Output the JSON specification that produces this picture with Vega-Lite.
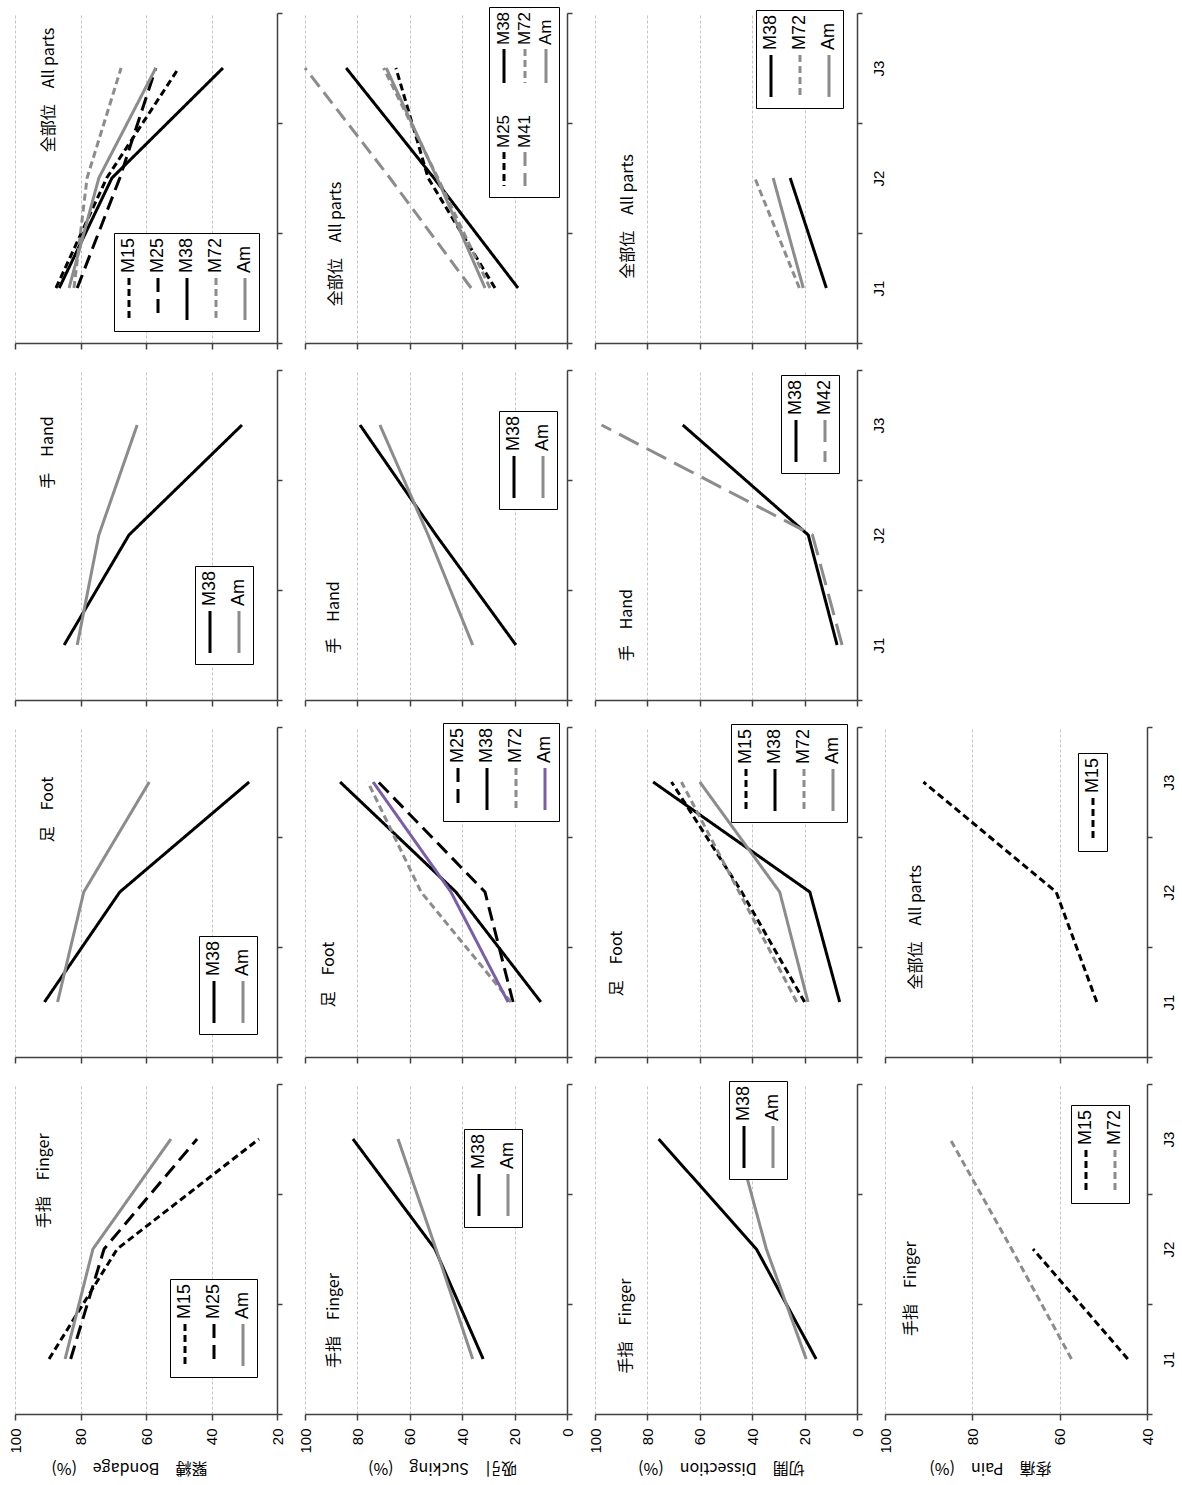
{
  "$schema": "https://vega.github.io/schema/vega-lite/v6.json",
  "background": "white",
  "padding": {"left": 8, "top": 6, "right": 5, "bottom": 5},
  "data": {"values": [
    {"m":"B","p":"all","s":"M15","j":"J1","v":87.5},{"m":"B","p":"all","s":"M15","j":"J2","v":72},{"m":"B","p":"all","s":"M15","j":"J3","v":50},
    {"m":"B","p":"all","s":"M25","j":"J1","v":81},{"m":"B","p":"all","s":"M25","j":"J2","v":68},{"m":"B","p":"all","s":"M25","j":"J3","v":57},
    {"m":"B","p":"all","s":"M38","j":"J1","v":86.5},{"m":"B","p":"all","s":"M38","j":"J2","v":70.4},{"m":"B","p":"all","s":"M38","j":"J3","v":36.5},
    {"m":"B","p":"all","s":"M72","j":"J1","v":82},{"m":"B","p":"all","s":"M72","j":"J2","v":78},{"m":"B","p":"all","s":"M72","j":"J3","v":67.6},
    {"m":"B","p":"all","s":"Am","j":"J1","v":83.5},{"m":"B","p":"all","s":"Am","j":"J2","v":74.4},{"m":"B","p":"all","s":"Am","j":"J3","v":57},
    {"m":"B","p":"hand","s":"M38","j":"J1","v":85},{"m":"B","p":"hand","s":"M38","j":"J2","v":65.2},{"m":"B","p":"hand","s":"M38","j":"J3","v":30.7},
    {"m":"B","p":"hand","s":"Am","j":"J1","v":81},{"m":"B","p":"hand","s":"Am","j":"J2","v":74.4},{"m":"B","p":"hand","s":"Am","j":"J3","v":62.7},
    {"m":"B","p":"foot","s":"M38","j":"J1","v":91},{"m":"B","p":"foot","s":"M38","j":"J2","v":68},{"m":"B","p":"foot","s":"M38","j":"J3","v":28.5},
    {"m":"B","p":"foot","s":"Am","j":"J1","v":87},{"m":"B","p":"foot","s":"Am","j":"J2","v":79},{"m":"B","p":"foot","s":"Am","j":"J3","v":59},
    {"m":"B","p":"finger","s":"M15","j":"J1","v":89.6},{"m":"B","p":"finger","s":"M15","j":"J2","v":68.8},{"m":"B","p":"finger","s":"M15","j":"J3","v":25.5},
    {"m":"B","p":"finger","s":"M25","j":"J1","v":83},{"m":"B","p":"finger","s":"M25","j":"J2","v":72.8},{"m":"B","p":"finger","s":"M25","j":"J3","v":44.4},
    {"m":"B","p":"finger","s":"Am","j":"J1","v":84.7},{"m":"B","p":"finger","s":"Am","j":"J2","v":76.2},{"m":"B","p":"finger","s":"Am","j":"J3","v":52.4},
    {"m":"S","p":"all","s":"M25","j":"J1","v":27.5},{"m":"S","p":"all","s":"M25","j":"J2","v":53},{"m":"S","p":"all","s":"M25","j":"J3","v":65.3},
    {"m":"S","p":"all","s":"M38","j":"J1","v":18.7},{"m":"S","p":"all","s":"M38","j":"J2","v":50.8},{"m":"S","p":"all","s":"M38","j":"J3","v":84.3},
    {"m":"S","p":"all","s":"M41","j":"J1","v":36.6},{"m":"S","p":"all","s":"M41","j":"J2","v":67.6},{"m":"S","p":"all","s":"M41","j":"J3","v":100},
    {"m":"S","p":"all","s":"M72","j":"J1","v":29.4},{"m":"S","p":"all","s":"M72","j":"J2","v":49.3},{"m":"S","p":"all","s":"M72","j":"J3","v":70},
    {"m":"S","p":"all","s":"Am","j":"J1","v":31.3},{"m":"S","p":"all","s":"Am","j":"J2","v":49.6},{"m":"S","p":"all","s":"Am","j":"J3","v":69},
    {"m":"S","p":"hand","s":"M38","j":"J1","v":19.5},{"m":"S","p":"hand","s":"M38","j":"J2","v":50},{"m":"S","p":"hand","s":"M38","j":"J3","v":79},
    {"m":"S","p":"hand","s":"Am","j":"J1","v":36},{"m":"S","p":"hand","s":"Am","j":"J2","v":53},{"m":"S","p":"hand","s":"Am","j":"J3","v":71.4},
    {"m":"S","p":"foot","s":"M25","j":"J1","v":20.6},{"m":"S","p":"foot","s":"M25","j":"J2","v":31.3},{"m":"S","p":"foot","s":"M25","j":"J3","v":72},
    {"m":"S","p":"foot","s":"M38","j":"J1","v":10},{"m":"S","p":"foot","s":"M38","j":"J2","v":42.4},{"m":"S","p":"foot","s":"M38","j":"J3","v":86.6},
    {"m":"S","p":"foot","s":"M72","j":"J1","v":21.4},{"m":"S","p":"foot","s":"M72","j":"J2","v":55.7},{"m":"S","p":"foot","s":"M72","j":"J3","v":76},
    {"m":"S","p":"foot","s":"Am","j":"J1","v":22.5},{"m":"S","p":"foot","s":"Am","j":"J2","v":44.3},{"m":"S","p":"foot","s":"Am","j":"J3","v":74},
    {"m":"S","p":"finger","s":"M38","j":"J1","v":32},{"m":"S","p":"finger","s":"M38","j":"J2","v":50.4},{"m":"S","p":"finger","s":"M38","j":"J3","v":81.7},
    {"m":"S","p":"finger","s":"Am","j":"J1","v":36},{"m":"S","p":"finger","s":"Am","j":"J2","v":50},{"m":"S","p":"finger","s":"Am","j":"J3","v":64.5},
    {"m":"D","p":"all","s":"M38","j":"J1","v":11.7},{"m":"D","p":"all","s":"M38","j":"J2","v":25.5},
    {"m":"D","p":"all","s":"M72","j":"J1","v":22},{"m":"D","p":"all","s":"M72","j":"J2","v":39},
    {"m":"D","p":"all","s":"Am","j":"J1","v":20.5},{"m":"D","p":"all","s":"Am","j":"J2","v":32},
    {"m":"D","p":"hand","s":"M38","j":"J1","v":7.6},{"m":"D","p":"hand","s":"M38","j":"J2","v":18.6},{"m":"D","p":"hand","s":"M38","j":"J3","v":66.5},
    {"m":"D","p":"hand","s":"M42","j":"J1","v":5.7},{"m":"D","p":"hand","s":"M42","j":"J2","v":17},{"m":"D","p":"hand","s":"M42","j":"J3","v":97.5},
    {"m":"D","p":"foot","s":"M15","j":"J1","v":20},{"m":"D","p":"foot","s":"M15","j":"J2","v":44},{"m":"D","p":"foot","s":"M15","j":"J3","v":70.8},
    {"m":"D","p":"foot","s":"M38","j":"J1","v":6.6},{"m":"D","p":"foot","s":"M38","j":"J2","v":18},{"m":"D","p":"foot","s":"M38","j":"J3","v":77.8},
    {"m":"D","p":"foot","s":"M72","j":"J1","v":23},{"m":"D","p":"foot","s":"M72","j":"J2","v":45},{"m":"D","p":"foot","s":"M72","j":"J3","v":67},
    {"m":"D","p":"foot","s":"Am","j":"J1","v":18.7},{"m":"D","p":"foot","s":"Am","j":"J2","v":29.5},{"m":"D","p":"foot","s":"Am","j":"J3","v":60},
    {"m":"D","p":"finger","s":"M38","j":"J1","v":15.6},{"m":"D","p":"finger","s":"M38","j":"J2","v":38.4},{"m":"D","p":"finger","s":"M38","j":"J3","v":75.7},
    {"m":"D","p":"finger","s":"Am","j":"J1","v":19.4},{"m":"D","p":"finger","s":"Am","j":"J2","v":34.6},{"m":"D","p":"finger","s":"Am","j":"J3","v":46},
    {"m":"P","p":"all","s":"M15","j":"J1","v":51.5},{"m":"P","p":"all","s":"M15","j":"J2","v":60.8},{"m":"P","p":"all","s":"M15","j":"J3","v":91.2},
    {"m":"P","p":"finger","s":"M15","j":"J1","v":44.4},{"m":"P","p":"finger","s":"M15","j":"J2","v":66.1},
    {"m":"P","p":"finger","s":"M72","j":"J1","v":57.3},{"m":"P","p":"finger","s":"M72","j":"J2","v":71},{"m":"P","p":"finger","s":"M72","j":"J3","v":85.1}
  ]},
  "config": {
    "view": {"stroke": null},
    "font": "Liberation Sans",
    "axis": {"domainColor": "#404040", "domainWidth": 1.5, "tickColor": "#404040", "tickWidth": 1.5, "labelColor": "black", "labelFont": "Liberation Sans", "labelFontSize": 15, "titleFont": "Noto Sans CJK JP", "titleFontSize": 16, "titleFontWeight": "normal", "titleColor": "black"},
    "axisX": {"grid": true, "gridColor": "#c4c4c4", "gridDash": [3, 2], "gridWidth": 1, "tickSize": 6, "labelAngle": 270, "labelAlign": "right", "labelBaseline": "middle", "labelPadding": 8, "labelFlush": false, "labelOverlap": false, "titleAngle": 180, "titleBaseline": "bottom", "titlePadding": 6},
    "axisY": {"grid": false, "tickSize": 5, "labelAngle": 270, "labelAlign": "center", "labelBaseline": "top", "labelPadding": 9},
    "legend": {"orient": "none", "direction": "horizontal", "symbolType": "M0,-1L0,1", "symbolSize": 1764, "symbolStrokeWidth": 3, "labelOffset": -21, "labelAlign": "left", "labelBaseline": "middle", "labelFont": "Liberation Sans", "labelFontSize": 18, "labelColor": "black", "columnPadding": 10, "rowPadding": 25, "padding": 5, "strokeColor": "black", "fillColor": "white"},
    "line": {"strokeWidth": 3, "strokeCap": "butt"}
  },
  "columns": 4,
  "spacing": {"row": 27, "column": 28},
  "bounds": "flush",
  "resolve": {"scale": {"color": "independent", "strokeDash": "independent"}},
  "concat": [
        {"width": 262, "height": 330, "layer": [
          {"transform": [{"filter": "datum.m == 'B' && datum.p == 'all'"}], "mark": "line", "encoding": {
            "x": {"field": "v", "type": "quantitative", "scale": {"domain": [20, 100], "reverse": true, "nice": false, "zero": false}, "axis": {"values": [20, 40, 60, 80, 100], "labels": false, "title": null}},
            "y": {"field": "j", "type": "ordinal", "scale": {"type": "band", "domain": ["J3", "J2", "J1"], "paddingInner": 0, "paddingOuter": 0}, "axis": {"orient": "right", "tickBand": "extent", "labels": false, "title": null}},
            "color": {"field": "s", "type": "nominal", "title": null, "scale": {"domain": ["M15", "M25", "M38", "M72", "Am"], "range": ["#000000", "#000000", "#000000", "#8c8c8c", "#8c8c8c"]}, "legend": {"legendX": 99, "legendY": 220, "encoding": {"symbols": {"x": {"value": 10}, "y": {"value": 61}}, "labels": {"angle": {"value": 270}, "dx": {"value": 26}, "x": {"value": 10}, "y": {"value": 61}}}}},
            "strokeDash": {"field": "s", "type": "nominal", "title": null, "scale": {"domain": ["M15", "M25", "M38", "M72", "Am"], "range": [[7, 4], [14, 7], [1, 0], [7, 4], [1, 0]]}},
            "order": {"field": "j"}}},
          {"data": {"values": [{"t": "全部位　All parts"}]}, "mark": {"type": "text", "angle": 270, "font": "Noto Sans CJK JP", "fontSize": 16, "align": "center", "baseline": "middle"}, "encoding": {"text": {"field": "t"}, "x": {"datum": 89.6, "title": null}, "y": {"datum": "J3", "bandPosition": 0.7, "title": null}}}
        ]},
        {"width": 262, "height": 330, "layer": [
          {"transform": [{"filter": "datum.m == 'S' && datum.p == 'all'"}], "mark": "line", "encoding": {
            "x": {"field": "v", "type": "quantitative", "scale": {"domain": [0, 100], "reverse": true, "nice": false}, "axis": {"values": [0, 20, 40, 60, 80, 100], "labels": false, "title": null}},
            "y": {"field": "j", "type": "ordinal", "scale": {"type": "band", "domain": ["J3", "J2", "J1"], "paddingInner": 0, "paddingOuter": 0}, "axis": {"orient": "right", "tickBand": "extent", "labels": false, "title": null}},
            "color": {"field": "s", "type": "nominal", "title": null, "scale": {"domain": ["M38", "M72", "Am", "M25", "M41"], "range": ["#000000", "#8c8c8c", "#8c8c8c", "#000000", "#8c8c8c"]}, "legend": {"legendX": 184, "legendY": -6, "columns": 3, "columnPadding": 3, "rowPadding": 25, "padding": 5, "symbolSize": 1156, "labelOffset": -17, "labelFontSize": 17, "encoding": {"symbols": {"x": {"value": 10}, "y": {"value": 54}}, "labels": {"angle": {"value": 270}, "dx": {"value": 21}, "x": {"value": 10}, "y": {"value": 54}}}}},
            "strokeDash": {"field": "s", "type": "nominal", "title": null, "scale": {"domain": ["M38", "M72", "Am", "M25", "M41"], "range": [[1, 0], [7, 4], [1, 0], [7, 4], [14, 7]]}},
            "order": {"field": "j"}}},
          {"data": {"values": [{"t": "全部位　All parts"}]}, "mark": {"type": "text", "angle": 270, "font": "Noto Sans CJK JP", "fontSize": 16, "align": "center", "baseline": "middle"}, "encoding": {"text": {"field": "t"}, "x": {"datum": 88, "title": null}, "y": {"datum": "J1", "bandPosition": 0.1, "title": null}}}
        ]},
        {"width": 262, "height": 330, "layer": [
          {"transform": [{"filter": "datum.m == 'D' && datum.p == 'all'"}], "mark": "line", "encoding": {
            "x": {"field": "v", "type": "quantitative", "scale": {"domain": [0, 100], "reverse": true, "nice": false}, "axis": {"values": [0, 20, 40, 60, 80, 100], "labels": false, "title": null}},
            "y": {"field": "j", "type": "ordinal", "scale": {"type": "band", "domain": ["J3", "J2", "J1"], "paddingInner": 0, "paddingOuter": 0}, "axis": {"orient": "right", "tickBand": "extent", "labels": true, "title": null}},
            "color": {"field": "s", "type": "nominal", "title": null, "scale": {"domain": ["M38", "M72", "Am"], "range": ["#000000", "#8c8c8c", "#8c8c8c"]}, "legend": {"legendX": 161, "legendY": -3, "encoding": {"symbols": {"x": {"value": 10}, "y": {"value": 61}}, "labels": {"angle": {"value": 270}, "dx": {"value": 26}, "x": {"value": 10}, "y": {"value": 61}}}}},
            "strokeDash": {"field": "s", "type": "nominal", "title": null, "scale": {"domain": ["M38", "M72", "Am"], "range": [[1, 0], [7, 4], [1, 0]]}},
            "order": {"field": "j"}}},
          {"data": {"values": [{"t": "全部位　All parts"}]}, "mark": {"type": "text", "angle": 270, "font": "Noto Sans CJK JP", "fontSize": 16, "align": "center", "baseline": "middle"}, "encoding": {"text": {"field": "t"}, "x": {"datum": 87.5, "title": null}, "y": {"datum": "J2", "bandPosition": 0.85, "title": null}}}
        ]},
        {"width": 262, "height": 330, "data": {"values": []}, "mark": {"type": "point", "opacity": 0}},
        {"width": 262, "height": 330, "layer": [
          {"transform": [{"filter": "datum.m == 'B' && datum.p == 'hand'"}], "mark": "line", "encoding": {
            "x": {"field": "v", "type": "quantitative", "scale": {"domain": [20, 100], "reverse": true, "nice": false, "zero": false}, "axis": {"values": [20, 40, 60, 80, 100], "labels": false, "title": null}},
            "y": {"field": "j", "type": "ordinal", "scale": {"type": "band", "domain": ["J3", "J2", "J1"], "paddingInner": 0, "paddingOuter": 0}, "axis": {"orient": "right", "tickBand": "extent", "labels": false, "title": null}},
            "color": {"field": "s", "type": "nominal", "title": null, "scale": {"domain": ["M38", "Am"], "range": ["#000000", "#8c8c8c"]}, "legend": {"legendX": 180, "legendY": 196, "encoding": {"symbols": {"x": {"value": 10}, "y": {"value": 61}}, "labels": {"angle": {"value": 270}, "dx": {"value": 26}, "x": {"value": 10}, "y": {"value": 61}}}}},
            "strokeDash": {"field": "s", "type": "nominal", "title": null, "scale": {"domain": ["M38", "Am"], "range": [[1, 0], [1, 0]]}},
            "order": {"field": "j"}}},
          {"data": {"values": [{"t": "手　Hand"}]}, "mark": {"type": "text", "angle": 270, "font": "Noto Sans CJK JP", "fontSize": 16, "align": "center", "baseline": "middle"}, "encoding": {"text": {"field": "t"}, "x": {"datum": 90, "title": null}, "y": {"datum": "J3", "bandPosition": 0.75, "title": null}}}
        ]},
        {"width": 262, "height": 330, "layer": [
          {"transform": [{"filter": "datum.m == 'S' && datum.p == 'hand'"}], "mark": "line", "encoding": {
            "x": {"field": "v", "type": "quantitative", "scale": {"domain": [0, 100], "reverse": true, "nice": false}, "axis": {"values": [0, 20, 40, 60, 80, 100], "labels": false, "title": null}},
            "y": {"field": "j", "type": "ordinal", "scale": {"type": "band", "domain": ["J3", "J2", "J1"], "paddingInner": 0, "paddingOuter": 0}, "axis": {"orient": "right", "tickBand": "extent", "labels": false, "title": null}},
            "color": {"field": "s", "type": "nominal", "title": null, "scale": {"domain": ["M38", "Am"], "range": ["#000000", "#8c8c8c"]}, "legend": {"legendX": 194, "legendY": 41, "encoding": {"symbols": {"x": {"value": 10}, "y": {"value": 61}}, "labels": {"angle": {"value": 270}, "dx": {"value": 26}, "x": {"value": 10}, "y": {"value": 61}}}}},
            "strokeDash": {"field": "s", "type": "nominal", "title": null, "scale": {"domain": ["M38", "Am"], "range": [[1, 0], [1, 0]]}},
            "order": {"field": "j"}}},
          {"data": {"values": [{"t": "手　Hand"}]}, "mark": {"type": "text", "angle": 270, "font": "Noto Sans CJK JP", "fontSize": 16, "align": "center", "baseline": "middle"}, "encoding": {"text": {"field": "t"}, "x": {"datum": 89, "title": null}, "y": {"datum": "J1", "bandPosition": 0.25, "title": null}}}
        ]},
        {"width": 262, "height": 330, "layer": [
          {"transform": [{"filter": "datum.m == 'D' && datum.p == 'hand'"}], "mark": "line", "encoding": {
            "x": {"field": "v", "type": "quantitative", "scale": {"domain": [0, 100], "reverse": true, "nice": false}, "axis": {"values": [0, 20, 40, 60, 80, 100], "labels": false, "title": null}},
            "y": {"field": "j", "type": "ordinal", "scale": {"type": "band", "domain": ["J3", "J2", "J1"], "paddingInner": 0, "paddingOuter": 0}, "axis": {"orient": "right", "tickBand": "extent", "labels": true, "title": null}},
            "color": {"field": "s", "type": "nominal", "title": null, "scale": {"domain": ["M38", "M42"], "range": ["#000000", "#8c8c8c"]}, "legend": {"legendX": 186, "legendY": 5, "encoding": {"symbols": {"x": {"value": 10}, "y": {"value": 61}}, "labels": {"angle": {"value": 270}, "dx": {"value": 26}, "x": {"value": 10}, "y": {"value": 61}}}}},
            "strokeDash": {"field": "s", "type": "nominal", "title": null, "scale": {"domain": ["M38", "M42"], "range": [[1, 0], [22, 9]]}},
            "order": {"field": "j"}}},
          {"data": {"values": [{"t": "手　Hand"}]}, "mark": {"type": "text", "angle": 270, "font": "Noto Sans CJK JP", "fontSize": 16, "align": "center", "baseline": "middle"}, "encoding": {"text": {"field": "t"}, "x": {"datum": 87.8, "title": null}, "y": {"datum": "J1", "bandPosition": 0.32, "title": null}}}
        ]},
        {"width": 262, "height": 330, "data": {"values": []}, "mark": {"type": "point", "opacity": 0}},
        {"width": 262, "height": 330, "layer": [
          {"transform": [{"filter": "datum.m == 'B' && datum.p == 'foot'"}], "mark": "line", "encoding": {
            "x": {"field": "v", "type": "quantitative", "scale": {"domain": [20, 100], "reverse": true, "nice": false, "zero": false}, "axis": {"values": [20, 40, 60, 80, 100], "labels": false, "title": null}},
            "y": {"field": "j", "type": "ordinal", "scale": {"type": "band", "domain": ["J3", "J2", "J1"], "paddingInner": 0, "paddingOuter": 0}, "axis": {"orient": "right", "tickBand": "extent", "labels": false, "title": null}},
            "color": {"field": "s", "type": "nominal", "title": null, "scale": {"domain": ["M38", "Am"], "range": ["#000000", "#8c8c8c"]}, "legend": {"legendX": 184, "legendY": 209, "encoding": {"symbols": {"x": {"value": 10}, "y": {"value": 61}}, "labels": {"angle": {"value": 270}, "dx": {"value": 26}, "x": {"value": 10}, "y": {"value": 61}}}}},
            "strokeDash": {"field": "s", "type": "nominal", "title": null, "scale": {"domain": ["M38", "Am"], "range": [[1, 0], [1, 0]]}},
            "order": {"field": "j"}}},
          {"data": {"values": [{"t": "足　Foot"}]}, "mark": {"type": "text", "angle": 270, "font": "Noto Sans CJK JP", "fontSize": 16, "align": "center", "baseline": "middle"}, "encoding": {"text": {"field": "t"}, "x": {"datum": 90, "title": null}, "y": {"datum": "J3", "bandPosition": 0.75, "title": null}}}
        ]},
        {"width": 262, "height": 330, "layer": [
          {"transform": [{"filter": "datum.m == 'S' && datum.p == 'foot'"}], "mark": "line", "encoding": {
            "x": {"field": "v", "type": "quantitative", "scale": {"domain": [0, 100], "reverse": true, "nice": false}, "axis": {"values": [0, 20, 40, 60, 80, 100], "labels": false, "title": null}},
            "y": {"field": "j", "type": "ordinal", "scale": {"type": "band", "domain": ["J3", "J2", "J1"], "paddingInner": 0, "paddingOuter": 0}, "axis": {"orient": "right", "tickBand": "extent", "labels": false, "title": null}},
            "color": {"field": "s", "type": "nominal", "title": null, "scale": {"domain": ["M25", "M38", "M72", "Am"], "range": ["#000000", "#000000", "#8c8c8c", "#7b5ea7"]}, "legend": {"legendX": 138, "legendY": -4, "encoding": {"symbols": {"x": {"value": 10}, "y": {"value": 61}}, "labels": {"angle": {"value": 270}, "dx": {"value": 26}, "x": {"value": 10}, "y": {"value": 61}}}}},
            "strokeDash": {"field": "s", "type": "nominal", "title": null, "scale": {"domain": ["M25", "M38", "M72", "Am"], "range": [[14, 7], [1, 0], [7, 4], [1, 0]]}},
            "order": {"field": "j"}}},
          {"data": {"values": [{"t": "足　Foot"}]}, "mark": {"type": "text", "angle": 270, "font": "Noto Sans CJK JP", "fontSize": 16, "align": "center", "baseline": "middle"}, "encoding": {"text": {"field": "t"}, "x": {"datum": 90.8, "title": null}, "y": {"datum": "J1", "bandPosition": 0.25, "title": null}}}
        ]},
        {"width": 262, "height": 330, "layer": [
          {"transform": [{"filter": "datum.m == 'D' && datum.p == 'foot'"}], "mark": "line", "encoding": {
            "x": {"field": "v", "type": "quantitative", "scale": {"domain": [0, 100], "reverse": true, "nice": false}, "axis": {"values": [0, 20, 40, 60, 80, 100], "labels": false, "title": null}},
            "y": {"field": "j", "type": "ordinal", "scale": {"type": "band", "domain": ["J3", "J2", "J1"], "paddingInner": 0, "paddingOuter": 0}, "axis": {"orient": "right", "tickBand": "extent", "labels": false, "title": null}},
            "color": {"field": "s", "type": "nominal", "title": null, "scale": {"domain": ["M15", "M38", "M72", "Am"], "range": ["#000000", "#000000", "#8c8c8c", "#8c8c8c"]}, "legend": {"legendX": 136, "legendY": -3, "encoding": {"symbols": {"x": {"value": 10}, "y": {"value": 61}}, "labels": {"angle": {"value": 270}, "dx": {"value": 26}, "x": {"value": 10}, "y": {"value": 61}}}}},
            "strokeDash": {"field": "s", "type": "nominal", "title": null, "scale": {"domain": ["M15", "M38", "M72", "Am"], "range": [[7, 4], [1, 0], [7, 4], [1, 0]]}},
            "order": {"field": "j"}}},
          {"data": {"values": [{"t": "足　Foot"}]}, "mark": {"type": "text", "angle": 270, "font": "Noto Sans CJK JP", "fontSize": 16, "align": "center", "baseline": "middle"}, "encoding": {"text": {"field": "t"}, "x": {"datum": 91.6, "title": null}, "y": {"datum": "J1", "bandPosition": 0.15, "title": null}}}
        ]},
        {"width": 262, "height": 330, "layer": [
          {"transform": [{"filter": "datum.m == 'P' && datum.p == 'all'"}], "mark": "line", "encoding": {
            "x": {"field": "v", "type": "quantitative", "scale": {"domain": [40, 100], "reverse": true, "nice": false, "zero": false}, "axis": {"values": [40, 60, 80, 100], "labels": false, "title": null}},
            "y": {"field": "j", "type": "ordinal", "scale": {"type": "band", "domain": ["J3", "J2", "J1"], "paddingInner": 0, "paddingOuter": 0}, "axis": {"orient": "right", "tickBand": "extent", "labels": true, "title": null}},
            "color": {"field": "s", "type": "nominal", "title": null, "scale": {"domain": ["M15"], "range": ["#000000"]}, "legend": {"legendX": 193, "legendY": 26, "encoding": {"symbols": {"x": {"value": 10}, "y": {"value": 61}}, "labels": {"angle": {"value": 270}, "dx": {"value": 26}, "x": {"value": 10}, "y": {"value": 61}}}}},
            "strokeDash": {"field": "s", "type": "nominal", "title": null, "scale": {"domain": ["M15"], "range": [[7, 4]]}},
            "order": {"field": "j"}}},
          {"data": {"values": [{"t": "全部位　All parts"}]}, "mark": {"type": "text", "angle": 270, "font": "Noto Sans CJK JP", "fontSize": 16, "align": "center", "baseline": "middle"}, "encoding": {"text": {"field": "t"}, "x": {"datum": 92.9, "title": null}, "y": {"datum": "J2", "bandPosition": 0.82, "title": null}}}
        ]},
        {"width": 262, "height": 330, "layer": [
          {"transform": [{"filter": "datum.m == 'B' && datum.p == 'finger'"}], "mark": "line", "encoding": {
            "x": {"field": "v", "type": "quantitative", "scale": {"domain": [20, 100], "reverse": true, "nice": false, "zero": false}, "axis": {"values": [20, 40, 60, 80, 100], "title": "緊縛　Bondage　(%)", "titleX": 114}},
            "y": {"field": "j", "type": "ordinal", "scale": {"type": "band", "domain": ["J3", "J2", "J1"], "paddingInner": 0, "paddingOuter": 0}, "axis": {"orient": "right", "tickBand": "extent", "labels": false, "title": null}},
            "color": {"field": "s", "type": "nominal", "title": null, "scale": {"domain": ["M15", "M25", "Am"], "range": ["#000000", "#000000", "#8c8c8c"]}, "legend": {"legendX": 155, "legendY": 195, "encoding": {"symbols": {"x": {"value": 10}, "y": {"value": 61}}, "labels": {"angle": {"value": 270}, "dx": {"value": 26}, "x": {"value": 10}, "y": {"value": 61}}}}},
            "strokeDash": {"field": "s", "type": "nominal", "title": null, "scale": {"domain": ["M15", "M25", "Am"], "range": [[7, 4], [14, 7], [1, 0]]}},
            "order": {"field": "j"}}},
          {"data": {"values": [{"t": "手指　Finger"}]}, "mark": {"type": "text", "angle": 270, "font": "Noto Sans CJK JP", "fontSize": 16, "align": "center", "baseline": "middle"}, "encoding": {"text": {"field": "t"}, "x": {"datum": 91, "title": null}, "y": {"datum": "J3", "bandPosition": 0.88, "title": null}}}
        ]},
        {"width": 262, "height": 330, "layer": [
          {"transform": [{"filter": "datum.m == 'S' && datum.p == 'finger'"}], "mark": "line", "encoding": {
            "x": {"field": "v", "type": "quantitative", "scale": {"domain": [0, 100], "reverse": true, "nice": false}, "axis": {"values": [0, 20, 40, 60, 80, 100], "title": "吸引　Sucking　(%)", "titleX": 137}},
            "y": {"field": "j", "type": "ordinal", "scale": {"type": "band", "domain": ["J3", "J2", "J1"], "paddingInner": 0, "paddingOuter": 0}, "axis": {"orient": "right", "tickBand": "extent", "labels": false, "title": null}},
            "color": {"field": "s", "type": "nominal", "title": null, "scale": {"domain": ["M38", "Am"], "range": ["#000000", "#8c8c8c"]}, "legend": {"legendX": 159, "legendY": 45, "encoding": {"symbols": {"x": {"value": 10}, "y": {"value": 61}}, "labels": {"angle": {"value": 270}, "dx": {"value": 26}, "x": {"value": 10}, "y": {"value": 61}}}}},
            "strokeDash": {"field": "s", "type": "nominal", "title": null, "scale": {"domain": ["M38", "Am"], "range": [[1, 0], [1, 0]]}},
            "order": {"field": "j"}}},
          {"data": {"values": [{"t": "手指　Finger"}]}, "mark": {"type": "text", "angle": 270, "font": "Noto Sans CJK JP", "fontSize": 16, "align": "center", "baseline": "middle"}, "encoding": {"text": {"field": "t"}, "x": {"datum": 89, "title": null}, "y": {"datum": "J1", "bandPosition": 0.15, "title": null}}}
        ]},
        {"width": 262, "height": 330, "layer": [
          {"transform": [{"filter": "datum.m == 'D' && datum.p == 'finger'"}], "mark": "line", "encoding": {
            "x": {"field": "v", "type": "quantitative", "scale": {"domain": [0, 100], "reverse": true, "nice": false}, "axis": {"values": [0, 20, 40, 60, 80, 100], "title": "切開　Dissection　(%)", "titleX": 126}},
            "y": {"field": "j", "type": "ordinal", "scale": {"type": "band", "domain": ["J3", "J2", "J1"], "paddingInner": 0, "paddingOuter": 0}, "axis": {"orient": "right", "tickBand": "extent", "labels": false, "title": null}},
            "color": {"field": "s", "type": "nominal", "title": null, "scale": {"domain": ["M38", "Am"], "range": ["#000000", "#8c8c8c"]}, "legend": {"legendX": 134, "legendY": -3, "encoding": {"symbols": {"x": {"value": 10}, "y": {"value": 61}}, "labels": {"angle": {"value": 270}, "dx": {"value": 26}, "x": {"value": 10}, "y": {"value": 61}}}}},
            "strokeDash": {"field": "s", "type": "nominal", "title": null, "scale": {"domain": ["M38", "Am"], "range": [[1, 0], [1, 0]]}},
            "order": {"field": "j"}}},
          {"data": {"values": [{"t": "手指　Finger"}]}, "mark": {"type": "text", "angle": 270, "font": "Noto Sans CJK JP", "fontSize": 16, "align": "center", "baseline": "middle"}, "encoding": {"text": {"field": "t"}, "x": {"datum": 88, "title": null}, "y": {"datum": "J1", "bandPosition": 0.2, "title": null}}}
        ]},
        {"width": 262, "height": 330, "layer": [
          {"transform": [{"filter": "datum.m == 'P' && datum.p == 'finger'"}], "mark": "line", "encoding": {
            "x": {"field": "v", "type": "quantitative", "scale": {"domain": [40, 100], "reverse": true, "nice": false, "zero": false}, "axis": {"values": [40, 60, 80, 100], "title": "疼痛　Pain　(%)", "titleX": 105}},
            "y": {"field": "j", "type": "ordinal", "scale": {"type": "band", "domain": ["J3", "J2", "J1"], "paddingInner": 0, "paddingOuter": 0}, "axis": {"orient": "right", "tickBand": "extent", "labels": true, "title": null}},
            "color": {"field": "s", "type": "nominal", "title": null, "scale": {"domain": ["M15", "M72"], "range": ["#000000", "#8c8c8c"]}, "legend": {"legendX": 186, "legendY": 21, "encoding": {"symbols": {"x": {"value": 10}, "y": {"value": 61}}, "labels": {"angle": {"value": 270}, "dx": {"value": 26}, "x": {"value": 10}, "y": {"value": 61}}}}},
            "strokeDash": {"field": "s", "type": "nominal", "title": null, "scale": {"domain": ["M15", "M72"], "range": [[7, 4], [7, 4]]}},
            "order": {"field": "j"}}},
          {"data": {"values": [{"t": "手指　Finger"}]}, "mark": {"type": "text", "angle": 270, "font": "Noto Sans CJK JP", "fontSize": 16, "align": "center", "baseline": "middle"}, "encoding": {"text": {"field": "t"}, "x": {"datum": 94, "title": null}, "y": {"datum": "J2", "bandPosition": 0.86, "title": null}}}
        ]}
  ]
}
